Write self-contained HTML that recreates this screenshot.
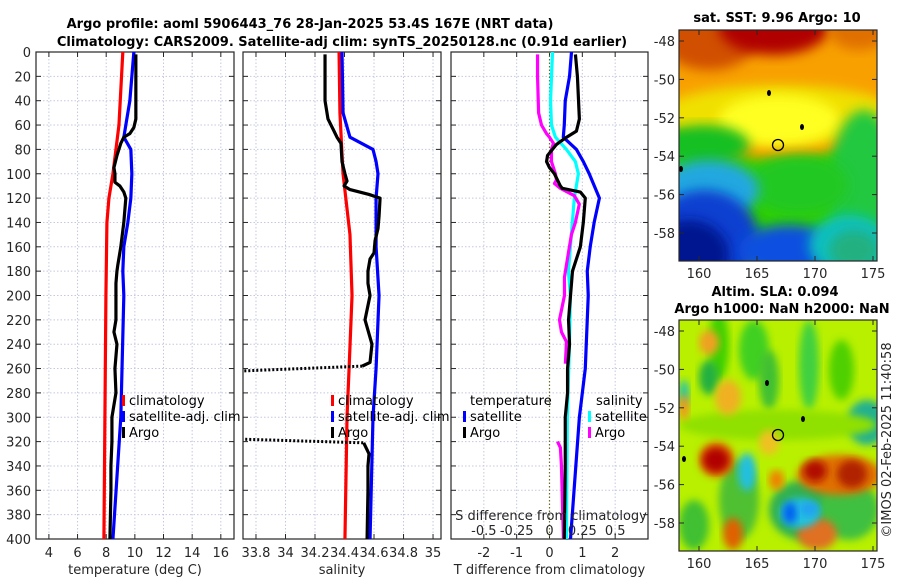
<!DOCTYPE html>
<html><head><meta charset="utf-8">
<style>
html,body{margin:0;padding:0;background:#fff;}
svg{display:block;font-family:"DejaVu Sans","Liberation Sans",sans-serif;}
.tk{font-size:13px;fill:#262626;}
.ttl{font-size:13px;font-weight:bold;fill:#000;}
.leg{font-size:13px;fill:#000;}
</style></head><body>
<svg id="fig" width="900" height="580" viewBox="0 0 900 580" xmlns="http://www.w3.org/2000/svg">
<defs>
<filter id="blur6" x="-20%" y="-20%" width="140%" height="140%"><feGaussianBlur stdDeviation="6"/></filter>
<filter id="blur4" x="-20%" y="-20%" width="140%" height="140%"><feGaussianBlur stdDeviation="4"/></filter>
<clipPath id="cp1"><rect x="36" y="52" width="198" height="487"/></clipPath>
<clipPath id="cp2"><rect x="243" y="52" width="198" height="487"/></clipPath>
<clipPath id="cp3"><rect x="451" y="52" width="197" height="487"/></clipPath>
<clipPath id="cpm1"><rect x="679" y="30" width="198" height="231"/></clipPath>
<clipPath id="cpm2"><rect x="679" y="320" width="198" height="231"/></clipPath>
</defs>
<text class="ttl" x="310" y="28" text-anchor="middle">Argo profile: aoml 5906443_76 28-Jan-2025 53.4S 167E (NRT data)</text>
<text class="ttl" x="342" y="46" text-anchor="middle">Climatology: CARS2009. Satellite-adj clim: synTS_20250128.nc (0.91d earlier)</text>
<g id="maps"></g>
<g id="plots"></g>
<text class="tk" transform="translate(891,440) rotate(-90)" text-anchor="middle">©IMOS 02-Feb-2025 11:40:58</text>
</svg>
<script>
// ---------- data ----------
const depthTicks = [0,20,40,60,80,100,120,140,160,180,200,220,240,260,280,300,320,340,360,380,400];
const tempTicks = [4,6,8,10,12,14,16];
const salTicks = [33.8,34,34.2,34.4,34.6,34.8,35];
const tdiffTicks = [-2,-1,0,1,2];
const sdiffTicks = [-0.5,-0.25,0,0.25,0.5];
const sdiffTickLabels = ["-0.5","-0.25","0","0.25","0.5"];

const climTDepth = [0,60,100,120,140,200,400];
const climT = [9.16,8.89,8.47,8.19,8.05,7.98,7.84];
const satTDepth = [0,20,40,60,70,80,100,120,140,160,180,200,300,400];
const satT = [9.93,9.79,9.65,9.37,9.23,9.72,9.79,9.72,9.51,9.23,9.16,9.23,9.02,8.47];
const argoTDepth = [2,20,40,55,62,67,70,75,85,95,100,107,110,115,120,140,160,175,180,190,200,220,230,240,260,280,300,320,340,360,400];
const argoT = [10.07,10.07,10.07,10.07,9.93,9.65,9.23,9.02,8.75,8.54,8.61,8.61,8.95,9.23,9.37,9.23,9.02,8.81,8.75,8.68,8.68,8.68,8.54,8.75,8.61,8.68,8.40,8.40,8.33,8.33,8.26];

const climSDepth = [0,50,100,150,200,260,300,400];
const climS = [34.363,34.369,34.390,34.437,34.451,34.431,34.417,34.403];
const satSDepth = [0,50,70,80,90,100,120,160,200,260,300,400];
const satS = [34.383,34.390,34.437,34.593,34.614,34.627,34.614,34.614,34.634,34.614,34.593,34.573];
const argoSDepth = [2,40,55,65,70,75,90,100,106,110,113,117,120,135,145,155,165,170,180,190,200,220,240,255,258,262,318,321,330,340,360,400];
const argoS = [34.268,34.268,34.288,34.329,34.349,34.376,34.383,34.403,34.417,34.397,34.437,34.566,34.641,34.634,34.627,34.607,34.600,34.573,34.559,34.559,34.573,34.539,34.586,34.573,34.520,33.700,33.700,34.530,34.566,34.559,34.559,34.553];

const satTdDepth = [0,20,40,60,70,80,90,100,120,140,160,180,200,260,300,400];
const satTd = [0.67,0.61,0.48,0.45,0.42,0.82,1.03,1.21,1.52,1.36,1.24,1.15,1.18,1.09,0.91,0.64];
const argoTdDepth = [2,20,55,65,70,73,76,85,90,95,100,110,112,115,120,140,160,180,200,220,240,260,280,300,320,340,400];
const argoTd = [0.79,0.85,0.91,0.82,0.52,0.36,0.21,-0.06,-0.09,0,0.15,0.33,0.39,0.94,1.09,1.03,0.94,0.70,0.64,0.58,0.61,0.55,0.55,0.48,0.48,0.48,0.45];
const satSdDepth = [0,40,60,70,80,90,100,120,140,160,180,200,240,300,400];
const satSd = [0.023,0.008,0.015,0.045,0.129,0.197,0.220,0.189,0.174,0.159,0.144,0.159,0.152,0.136,0.129];
const argoSdDepth = [2,20,50,60,67,70,75,80,90,100,105,108,112,118,125,140,150,165,175,185,200,220,230,238,256];
const argoSd = [-0.091,-0.091,-0.083,-0.061,-0.023,0,0.030,0.015,0.015,0.045,0.053,0.038,0.083,0.189,0.227,0.197,0.167,0.144,0.129,0.114,0.114,0.076,0.091,0.129,0.121];
const argoSd2Depth = [320,325,340,400];
const argoSd2 = [0.061,0.083,0.091,0.106];

// ---------- helpers ----------
const NS = "http://www.w3.org/2000/svg";
const plots = document.getElementById('plots');
const maps = document.getElementById('maps');
function mk(tag, attrs, parent){const e=document.createElementNS(NS,tag);for(const k in attrs)e.setAttribute(k,attrs[k]);(parent||plots).appendChild(e);return e;}
const Y0=52, Y1=539;
function yD(d){return Y0 + d*(Y1-Y0)/400;}

function panel(px, pw, xmin, xmax, ticks, labels, xlabel, name){
  const xs = v => px + (v-xmin)/(xmax-xmin)*pw;
  const g = mk('g',{});
  
  
  for(const d of depthTicks){
    const l = mk('line',{x1:px,x2:px+pw,y1:yD(d),y2:yD(d),stroke:'#c4c8e0','stroke-width':1,'stroke-dasharray':'1.5,2'},g);
    
    
    mk('line',{x1:px,x2:px+5,y1:yD(d),y2:yD(d),stroke:'#262626'},g);
    mk('line',{x1:px+pw-5,x2:px+pw,y1:yD(d),y2:yD(d),stroke:'#262626'},g);
  }
  ticks.forEach((t,i)=>{
    const x=xs(t);
    const l = mk('line',{x1:x,x2:x,y1:Y0,y2:Y1,stroke:'#c4c8e0','stroke-width':1,'stroke-dasharray':'1.5,2'},g);
    
    
    mk('line',{x1:x,x2:x,y1:Y1-5,y2:Y1,stroke:'#262626'},g);
    mk('line',{x1:x,x2:x,y1:Y0,y2:Y0+5,stroke:'#262626'},g);
    const tx = mk('text',{x:x,y:557,'text-anchor':'middle',class:'tk'},g);
    tx.textContent = labels[i];
    
    
  });
  mk('rect',{x:px,y:Y0,width:pw,height:Y1-Y0,fill:'none',stroke:'#262626','stroke-width':1.2},g);
  const xl = mk('text',{x:px+pw/2,y:574,'text-anchor':'middle',class:'tk'},g);
  xl.textContent = xlabel;
  
  
  return {xs,g};
}
function series(p, depths, vals, color, clip, name, transform, badBelow){
  const tf = transform || (v=>v);
  const isBad = v => (badBelow !== undefined) && v < badBelow;
  const pts = depths.map((d,i)=>[p.xs(tf(vals[i])), yD(d)]);
  const g = mk('g',{'clip-path':'url(#'+clip+')'});
  
  
  let cur=[], segs=[];
  for(let i=0;i<pts.length;i++){
    if(i>0 && (isBad(vals[i]) || isBad(vals[i-1]))){
      const l=mk('line',{x1:pts[i-1][0],y1:pts[i-1][1],x2:pts[i][0],y2:pts[i][1],stroke:color,'stroke-width':3,'stroke-dasharray':'2,2'},g);
      
      
    }
    if(isBad(vals[i])){ if(cur.length) segs.push(cur); cur=[]; continue; }
    cur.push(pts[i]);
  }
  if(cur.length) segs.push(cur);
  for(const s of segs){
    const pl = mk('polyline',{points:s.map(p=>p.join(',')).join(' '),fill:'none',stroke:color,'stroke-width':3.2,'stroke-linejoin':'round'},g);
    
    
  }
}
function legend(x, y, items){
  items.forEach((it,i)=>{
    const yy = y + i*16;
    const r = mk('rect',{x:x,y:yy-10,width:3,height:11,fill:it[1]});
    
    
    const t = mk('text',{x:x+7,y:yy,class:'leg'});
    t.textContent = it[0];
    
    
  });
}

// depth labels
for(const d of depthTicks){
  const t = mk('text',{x:31,y:yD(d)+5,'text-anchor':'end',class:'tk'});
  t.textContent = d;
  
  
}

// panel 1
const p1 = panel(36,198,3.1,16.92,tempTicks,tempTicks.map(String),'temperature (deg C)','temperature-panel');
series(p1, climTDepth, climT, '#f00', 'cp1', 'temp-climatology');
series(p1, satTDepth, satT, '#00f', 'cp1', 'temp-satellite-adj');
series(p1, argoTDepth, argoT, '#000', 'cp1', 'temp-argo');
legend(122,405,[['climatology','#f00'],['satellite-adj. clim','#00f'],['Argo','#000']]);

// panel 2
const p2 = panel(243,198,33.712,35.054,salTicks,['33.8','34','34.2','34.4','34.6','34.8','35'],'salinity','salinity-panel');
series(p2, climSDepth, climS, '#f00', 'cp2', 'sal-climatology');
series(p2, satSDepth, satS, '#00f', 'cp2', 'sal-satellite-adj');
series(p2, argoSDepth, argoS, '#000', 'cp2', 'sal-argo', null, 33.75);
legend(331,405,[['climatology','#f00'],['satellite-adj. clim','#00f'],['Argo','#000']]);

// panel 3
const p3 = panel(451,197,-3,3,tdiffTicks,tdiffTicks.map(String),'T difference from climatology','difference-panel');
const zl = mk('line',{x1:p3.xs(0),x2:p3.xs(0),y1:Y0,y2:Y1,stroke:'#6b6b2a','stroke-width':1.2,'stroke-dasharray':'1.5,2'});


const s4 = v=>v*4;
series(p3, satSdDepth, satSd, '#0ff', 'cp3', 'sdiff-satellite', s4);
series(p3, argoSdDepth, argoSd, '#f0f', 'cp3', 'sdiff-argo', s4);
series(p3, argoSd2Depth, argoSd2, '#f0f', 'cp3', 'sdiff-argo-deep', s4);
series(p3, satTdDepth, satTd, '#00f', 'cp3', 'tdiff-satellite');
series(p3, argoTdDepth, argoTd, '#000', 'cp3', 'tdiff-argo');
{
  const t=mk('text',{x:470,y:405,class:'leg'}); t.textContent='temperature';
   
  const s=mk('text',{x:596,y:405,class:'leg'}); s.textContent='salinity';
   
}
legend(463,421,[['satellite','#00f'],['Argo','#000']]);
legend(588,421,[['satellite','#0ff'],['Argo','#f0f']]);
{
  const t=mk('text',{x:551,y:520,'text-anchor':'middle',class:'tk'}); t.textContent='S difference from climatology';
   
  sdiffTicks.forEach((v,i)=>{
    const l=mk('text',{x:p3.xs(v*4),y:535,'text-anchor':'middle',class:'tk'}); l.textContent=sdiffTickLabels[i];
     
  });
}

// ---------- maps ----------
const lonTicks=[160,165,170,175];
const latTicks=[-48,-50,-52,-54,-56,-58];
function mapFrame(top, latY48, latY58, titles, name, shapes, clip, circY, islands){
  const g=mk('g',{},maps);
  
  
  const inner=mk('g',{'clip-path':'url(#'+clip+')'},g);
  shapes(inner, 679, top);
  const lx = lon => 699 + (lon-160)*(873-699)/15;
  const ly = lat => latY48 + (-48-lat)*(latY58-latY48)/10;
  for(const isl of islands){ mk('ellipse',{cx:isl[0],cy:isl[1],rx:2,ry:3,fill:'#000'},g); }
  const c=mk('circle',{cx:778,cy:circY,r:5.5,fill:'none',stroke:'#000','stroke-width':1.3},g);
  
  
  mk('rect',{x:679,y:top,width:198,height:231,fill:'none',stroke:'#262626','stroke-width':1.2},g);
  for(const lon of lonTicks){
    const x=lx(lon);
    mk('line',{x1:x,x2:x,y1:top+231,y2:top+226,stroke:'#262626'},g);
    mk('line',{x1:x,x2:x,y1:top,y2:top+5,stroke:'#262626'},g);
    const t=mk('text',{x:x,y:top+248,'text-anchor':'middle',class:'tk'},g); t.textContent=lon;
     
  }
  for(const lat of latTicks){
    const y=ly(lat);
    mk('line',{x1:679,x2:684,y1:y,y2:y,stroke:'#262626'},g);
    mk('line',{x1:872,x2:877,y1:y,y2:y,stroke:'#262626'},g);
    const t=mk('text',{x:675,y:y+5,'text-anchor':'end',class:'tk'},g); t.textContent=lat;
     
  }
  titles.forEach(tt=>{
    const t=mk('text',{x:tt[1],y:tt[2],'text-anchor':'middle',class:'ttl'},g); t.textContent=tt[0];
     
  });
}
function blob(p, ox, oy, x, y, w, h, fill, f){
  return mk('ellipse',{cx:ox+x+w/2,cy:oy+y+h/2,rx:w/2,ry:h/2,fill:fill,filter:'url(#'+(f||'blur6')+')'},p);
}
function sstShapes(p, ox, oy){
  mk('rect',{x:ox,y:oy,width:198,height:231,fill:'#2fd000'},p);
  blob(p,ox,oy,-30,-40,260,170,'#f8a000');
  blob(p,ox,oy,-20,55,240,60,'#f0e000');
  blob(p,ox,oy,40,65,120,50,'#ffff20');
  blob(p,ox,oy,-20,-30,100,70,'#d05000');
  blob(p,ox,oy,40,-30,110,55,'#b00000');
  blob(p,ox,oy,150,-20,60,40,'#e07000');
  blob(p,ox,oy,-20,95,90,40,'#18c020');
  blob(p,ox,oy,150,80,70,160,'#20c840');
  blob(p,ox,oy,70,125,100,60,'#20c820');
  blob(p,ox,oy,-20,130,100,60,'#20a8e0');
  blob(p,ox,oy,-30,160,110,100,'#1040d0');
  blob(p,ox,oy,-30,190,80,70,'#001890');
  blob(p,ox,oy,60,195,100,50,'#1050e0');
  blob(p,ox,oy,130,185,80,60,'#10c0c0');
  blob(p,ox,oy,150,200,50,40,'#20b080');
}
function slaShapes(p, ox, oy){
  mk('rect',{x:ox,y:oy,width:198,height:231,fill:'#b8f000'},p);
  const ell=[[30,-10,20,70,'#40d000'],[60,0,30,60,'#40d020'],[120,0,20,90,'#40d040'],[150,20,25,60,'#50d000'],
    [20,40,20,35,'#20b040'],[0,60,10,25,'#20c0b0'],[80,30,20,60,'#40c030'],[168,80,40,45,'#20b090'],
    [0,90,198,30,'#90e000'],[40,140,40,80,'#50c030'],[90,160,70,60,'#30b050'],[140,160,60,60,'#40c040'],[0,180,30,50,'#40c030'],
    [20,10,20,25,'#f0a020'],[36,60,26,35,'#f0b020'],[0,75,10,25,'#f09020'],[44,198,20,32,'#e06000'],[118,198,40,32,'#e07020'],
    [20,122,35,35,'#e06000'],[118,135,85,40,'#e07000'],[80,110,20,25,'#f0c020'],[90,150,15,20,'#f08000'],
    [24,128,26,24,'#b00000'],[124,140,24,22,'#b01000'],[158,140,30,28,'#b02000'],
    [59,133,18,38,'#20c0e0'],[101,178,40,30,'#20c0e0'],[104,182,14,22,'#0060f0'],[120,182,20,14,'#20a0f0']];
  for(const e of ell) blob(p,ox,oy,e[0],e[1],e[2],e[3],e[4],'blur4');
}
mapFrame(30,41,233,[['sat. SST: 9.96 Argo: 10',777,22],['Altim. SLA: 0.094',775,296]],'sst-map',sstShapes,'cpm1',145,[[769,93],[802,127],[681,169]]);
mapFrame(320,331,523,[['Argo h1000: NaN h2000: NaN',782,313]],'sla-map',slaShapes,'cpm2',435,[[767,383],[803,419],[684,459]]);
</script>
</body></html>
